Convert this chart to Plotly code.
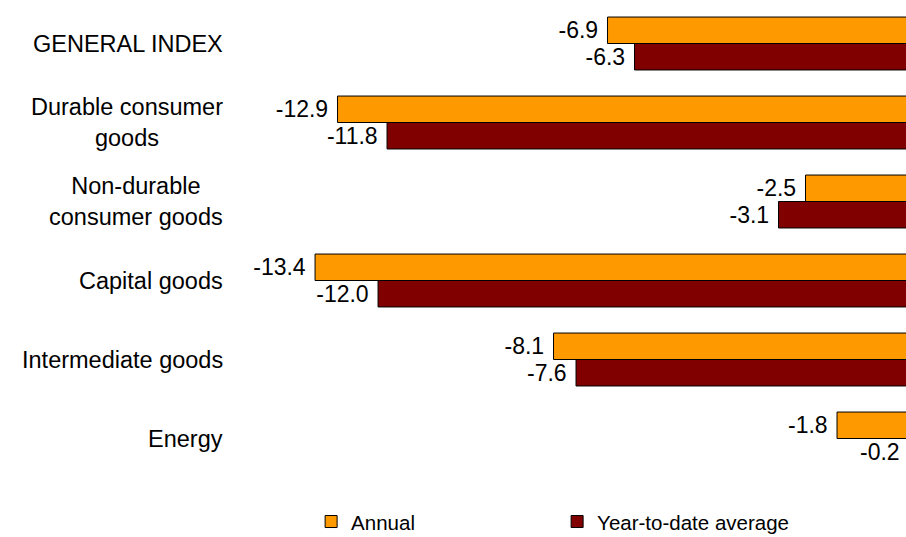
import plotly.graph_objects as go

categories = ["GENERAL INDEX", "Durable consumer<br>goods", "Non-durable<br>consumer goods",
              "Capital goods", "Intermediate goods", "Energy"]
annual = [-6.9, -12.9, -2.5, -13.4, -8.1, -1.8]
ytd_avg = [-6.3, -11.8, -3.1, -12.0, -7.6, -0.2]

FONT = "Liberation Sans, Arial, sans-serif"

fig = go.Figure()
fig.add_trace(go.Bar(
    name="Annual", y=categories, x=annual, orientation="h",
    marker=dict(color="#FF9900", line=dict(color="#000000", width=1)),
    text=[f"{v:.1f}\u00a0" for v in annual], textposition="outside",
    constraintext="none", cliponaxis=True,
    textfont=dict(family=FONT, size=23, color="#000000"),
))
fig.add_trace(go.Bar(
    name="Year-to-date average", y=categories, x=ytd_avg, orientation="h",
    marker=dict(color="#800000", line=dict(color="#000000", width=1)),
    text=[f"{v:.1f}\u00a0" for v in ytd_avg], textposition="outside",
    constraintext="none", cliponaxis=True,
    textfont=dict(family=FONT, size=23, color="#000000"),
))

for c in categories:
    fig.add_annotation(
        x=0, xref="paper", y=c, yref="y", text=c, showarrow=False,
        xanchor="right", yanchor="middle", align="center", xshift=-5,
        font=dict(family=FONT, size=23.5, color="#000000"),
    )

fig.update_layout(
    width=906, height=537,
    margin=dict(l=230, r=0, t=4, b=59, autoexpand=False),
    paper_bgcolor="white", plot_bgcolor="white",
    barmode="group", bargap=0.33, bargroupgap=0,
    showlegend=True,
    legend=dict(orientation="h", x=0.12, xanchor="left", y=-0.05, yanchor="top",
                entrywidth=201, entrywidthmode="pixels",
                font=dict(family=FONT, size=20.5, color="#000000"),
                bgcolor="rgba(0,0,0,0)", traceorder="normal"),
    xaxis=dict(range=[-15.29, -0.267], visible=False, fixedrange=True),
    yaxis=dict(categoryorder="array", categoryarray=categories, autorange="reversed",
               showticklabels=False, showgrid=False, zeroline=False, showline=False,
               ticks="", fixedrange=True),
    font=dict(family=FONT, color="#000000"),
    hovermode=False,
)

fig.write_html("out.html", config={"displayModeBar": False, "staticPlot": True},
               post_script="document.body.style.margin='0';document.body.style.padding='0';")
